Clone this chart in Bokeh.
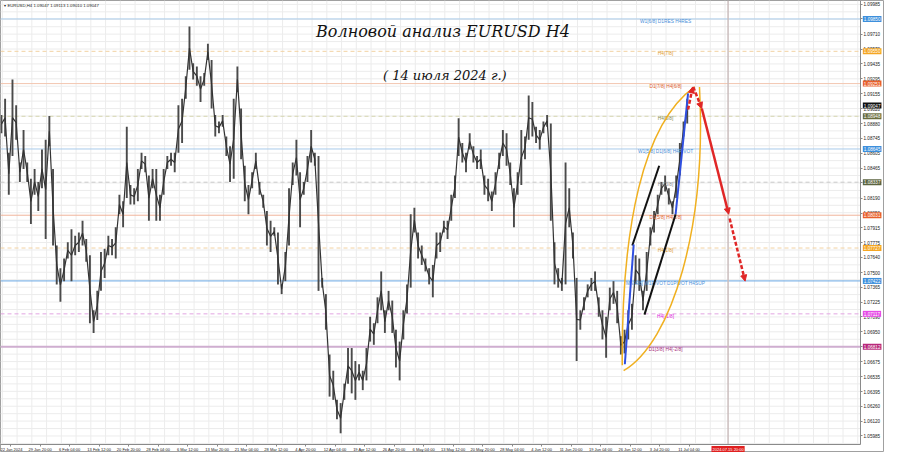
from bokeh.plotting import figure
from bokeh.models import (Range1d, FixedTicker, Label, Arrow, NormalHead,
                          ColumnDataSource, PrintfTickFormatter)
from bokeh.embed import file_html
from bokeh.resources import INLINE
from bokeh.core.properties import value

# ---------------- data ----------------
# EURUSD H4, sampled every 4 bars: high / low of each 4-bar group
hi = [
    1.0896, 1.0911, 1.0861, 1.0929, 1.0905, 1.0852, 1.0882, 1.0852, 1.0837, 1.0846,
    1.0834, 1.0864, 1.0873, 1.0895, 1.0846, 1.0775, 1.0754, 1.0763, 1.0778, 1.0790,
    1.0784, 1.0787, 1.0798, 1.0781, 1.0766, 1.0715, 1.0733, 1.0769, 1.0772, 1.0784,
    1.0781, 1.0792, 1.0822, 1.0816, 1.0885, 1.0831, 1.0828, 1.0846, 1.0861, 1.0858,
    1.0840, 1.0846, 1.0846, 1.0822, 1.0846, 1.0858, 1.0861, 1.0861, 1.0905, 1.0911,
    1.0932, 1.0978, 1.0944, 1.0941, 1.0932, 1.0935, 1.0962, 1.0947, 1.0896, 1.0890,
    1.0896, 1.0876, 1.0867, 1.0911, 1.0941, 1.0902, 1.0849, 1.0831, 1.0843, 1.0861,
    1.0834, 1.0822, 1.0807, 1.0798, 1.0792, 1.0787, 1.0739, 1.0769, 1.0828, 1.0852,
    1.0873, 1.0843, 1.0834, 1.0858, 1.0882, 1.0861, 1.0858, 1.0745, 1.0730, 1.0674,
    1.0659, 1.0632, 1.0629, 1.0647, 1.0680, 1.0680, 1.0668, 1.0665, 1.0659, 1.0680,
    1.0709, 1.0703, 1.0727, 1.0751, 1.0715, 1.0733, 1.0724, 1.0697, 1.0686, 1.0715,
    1.0739, 1.0804, 1.0810, 1.0787, 1.0775, 1.0763, 1.0754, 1.0757, 1.0787, 1.0787,
    1.0798, 1.0798, 1.0822, 1.0840, 1.0893, 1.0870, 1.0861, 1.0879, 1.0867, 1.0858,
    1.0864, 1.0840, 1.0837, 1.0825, 1.0843, 1.0861, 1.0882, 1.0879, 1.0852, 1.0828,
    1.0843, 1.0882, 1.0876, 1.0914, 1.0908, 1.0885, 1.0882, 1.0890, 1.0896, 1.0888,
    1.0778, 1.0754, 1.0745, 1.0852, 1.0828, 1.0787, 1.0745, 1.0715, 1.0727, 1.0739,
    1.0745, 1.0751, 1.0727, 1.0715, 1.0709, 1.0736, 1.0742, 1.0733, 1.0691, 1.0697,
    1.0715, 1.0721, 1.0766, 1.0763, 1.0733, 1.0769, 1.0792, 1.0807, 1.0822, 1.0834,
    1.0840, 1.0828, 1.0816, 1.0840, 1.0870, 1.0890, 1.0911,
]
lo = [
    1.0879, 1.0876, 1.0822, 1.0858, 1.0873, 1.0834, 1.0846, 1.0834, 1.0795, 1.0822,
    1.0807, 1.0828, 1.0781, 1.0867, 1.0775, 1.0739, 1.0723, 1.0742, 1.0763, 1.0742,
    1.0766, 1.0769, 1.0775, 1.0760, 1.0703, 1.0694, 1.0706, 1.0733, 1.0745, 1.0766,
    1.0766, 1.0763, 1.0804, 1.0792, 1.0819, 1.0813, 1.0813, 1.0816, 1.0846, 1.0843,
    1.0798, 1.0828, 1.0798, 1.0798, 1.0822, 1.0846, 1.0849, 1.0843, 1.0861, 1.0870,
    1.0911, 1.0938, 1.0929, 1.0923, 1.0908, 1.0923, 1.0947, 1.0902, 1.0876, 1.0879,
    1.0885, 1.0858, 1.0834, 1.0837, 1.0917, 1.0855, 1.0816, 1.0804, 1.0828, 1.0846,
    1.0822, 1.0810, 1.0775, 1.0769, 1.0784, 1.0739, 1.0730, 1.0742, 1.0775, 1.0831,
    1.0840, 1.0792, 1.0822, 1.0834, 1.0852, 1.0849, 1.0733, 1.0736, 1.0697, 1.0635,
    1.0632, 1.0614, 1.0601, 1.0632, 1.0647, 1.0638, 1.0632, 1.0650, 1.0641, 1.0650,
    1.0686, 1.0683, 1.0703, 1.0715, 1.0694, 1.0715, 1.0694, 1.0662, 1.0650, 1.0688,
    1.0712, 1.0736, 1.0787, 1.0763, 1.0757, 1.0751, 1.0739, 1.0727, 1.0763, 1.0769,
    1.0787, 1.0781, 1.0798, 1.0819, 1.0858, 1.0852, 1.0843, 1.0864, 1.0852, 1.0846,
    1.0846, 1.0822, 1.0816, 1.0807, 1.0822, 1.0846, 1.0858, 1.0849, 1.0831, 1.0792,
    1.0822, 1.0831, 1.0855, 1.0873, 1.0876, 1.0870, 1.0864, 1.0879, 1.0885, 1.0798,
    1.0739, 1.0736, 1.0733, 1.0739, 1.0792, 1.0763, 1.0668, 1.0697, 1.0715, 1.0727,
    1.0733, 1.0733, 1.0709, 1.0688, 1.0671, 1.0715, 1.0721, 1.0703, 1.0674, 1.0675,
    1.0688, 1.0697, 1.0739, 1.0733, 1.0715, 1.0733, 1.0775, 1.0787, 1.0804, 1.0822,
    1.0825, 1.0813, 1.0804, 1.0819, 1.0840, 1.0876, 1.0888,
]
BARS_PER_SAMPLE = 4

# time axis labels (every 32 H4 bars)
x_tick_labels = ["22 Jan 2024", "29 Jan 20:00", "6 Feb 04:00", "13 Feb 12:00", "20 Feb 20:00",
                 "28 Feb 04:00", "6 Mar 12:00", "13 Mar 20:00", "21 Mar 04:00", "28 Mar 12:00",
                 "4 Apr 20:00", "12 Apr 04:00", "19 Apr 12:00", "26 Apr 20:00", "6 May 04:00",
                 "13 May 12:00", "20 May 20:00", "28 May 04:00", "4 Jun 12:00", "11 Jun 20:00",
                 "19 Jun 04:00", "26 Jun 12:00", "3 Jul 20:00", "11 Jul 04:00"]
y_tick_values = [1.05985, 1.06120, 1.06260, 1.06395, 1.06535, 1.06675, 1.06810, 1.06950,
                 1.07090, 1.07225, 1.07365, 1.07500, 1.07640, 1.07775, 1.07915, 1.08050,
                 1.08190, 1.08330, 1.08465, 1.08605, 1.08745, 1.08880, 1.09020, 1.09155,
                 1.09295, 1.09435, 1.09570, 1.09710, 1.09850, 1.09985]

# Murrey-math levels
level_prices = [1.09850, 1.09550, 1.09251, 1.08948, 1.08645, 1.08337,
                1.08031, 1.07727, 1.07422, 1.07117, 1.06812]
level_names = ["W1[6/8] D1RES H4RES", "H4[7/8]", "D1[7/8] H4[6/8]", "H4[5/8]",
               "W1[5/8] D1[6/8] H4PIVOT", "H4[3/8]", "D1[5/8] H4[2/8]", "H4[1/8]",
               "MN[4/8] W1PIVOT D1PIVOT H4SUP", "H4[-1/8]", "D1[3/8] H4[-2/8]"]
level_line_colors = ["#a9cbea", "#f2d2a2", "#f2c6b0", "#d6d6b0", "#a9cbea", "#c9c9c9",
                     "#f0b49c", "#f2d2a2", "#6aa8e4", "#e2a6e2", "#cfaed0"]
level_dash = ["solid", "4 3", "solid", "4 3", "solid", "4 3",
              "solid", "4 3", "solid", "4 3", "solid"]
level_text_colors = ["#4a90d9", "#e09a2a", "#e0602e", "#858a4a", "#4a90d9", "#8a8a8a",
                     "#e0602e", "#e09a2a", "#4a90d9", "#dd22dd", "#a8307e"]

# price tags on the right scale
tag_prices = [1.09850, 1.09550, 1.09251, 1.09047, 1.08948, 1.08645,
              1.08337, 1.08031, 1.07727, 1.07422, 1.07117, 1.06812]
tag_colors = ["#3d8fdc", "#f5a623", "#e8602c", "#111111", "#6b6d3f", "#3d8fdc",
              "#5c6440", "#e8602c", "#f5a623", "#3d8fdc", "#e64ce6", "#b8287a"]

# wave drawings (bar index, price)
blue_x = [[676.3, 685.9], [731.4, 744.9]]
blue_y = [[1.0665, 1.0776], [1.0804, 1.0916]]
black_x = [[684.4, 713.6], [697.6, 731.4]]
black_y = [[1.0775, 1.0849], [1.0711, 1.0804]]
lens_x0 = [673.5, 675.0]; lens_y0 = [1.0664, 1.0659]
lens_c0x = [672.5, 727.8]; lens_c0y = [1.0792, 1.0686]
lens_c1x = [695.8, 765.2]; lens_c1y = [1.0888, 1.0792]
lens_x1 = [752.0, 757.3]; lens_y1 = [1.0922, 1.0922]
fc_x0 = [744.9, 750.5, 759.8, 790.0]
fc_y0 = [1.0901, 1.0922, 1.0902, 1.0800]
fc_x1 = [749.9, 759.8, 789.0, 806.8]
fc_y1 = [1.0922, 1.0902, 1.0804, 1.0742]
fc_dash = ["4 2", "4 2", "solid", "4 2"]
date_line_bar = 788.3

# ---------------- figure ----------------
FONT = "Liberation Sans"
X_AX = 932          # last bar slot: price scale sits here
Y_BOT = 1.0591      # bottom of the chart area: time scale sits here
Y_TOP = 1.10021
p = figure(width=884, height=452, output_backend="svg", toolbar_location=None,
           x_range=Range1d(-1, 958), y_range=Range1d(1.05832, Y_TOP),
           y_axis_location="right", min_border_left=0, min_border_right=0,
           min_border_top=0, min_border_bottom=0,
           background_fill_color="white", border_fill_color="white",
           outline_line_color="#a0a0a0")

x_tick_bars = [10 + 32 * k for k in range(len(x_tick_labels))]
for ax in (p.xaxis[0], p.yaxis[0]):
    ax.major_label_text_font = FONT
    ax.major_label_text_color = "#222222"
    ax.axis_line_color = "#8a8a8a"
    ax.major_tick_line_color = "#8a8a8a"
    ax.major_tick_out = 2
    ax.major_tick_in = 0
    ax.minor_tick_line_color = None
    ax.major_label_standoff = 1
p.xaxis.major_label_text_font_size = "4px"
p.yaxis.major_label_text_font_size = "4.6px"
p.yaxis.ticker = FixedTicker(ticks=y_tick_values)
p.yaxis.formatter = PrintfTickFormatter(format="%.5f")
p.yaxis.fixed_location = X_AX
p.yaxis.bounds = (Y_BOT, Y_TOP)
p.xaxis.ticker = FixedTicker(ticks=x_tick_bars)
p.xaxis.major_label_overrides = {b: s for b, s in zip(x_tick_bars, x_tick_labels)}
p.xaxis.fixed_location = Y_BOT
p.xaxis.bounds = (-1, X_AX)
p.xgrid.grid_line_color = None
p.ygrid.grid_line_color = None

# light chart grid (inside the chart area only)
gx = [x for x in range(1, X_AX, 16)]
p.segment(x0=gx, y0=[Y_BOT] * len(gx), x1=gx, y1=[Y_TOP] * len(gx),
          line_color="#ececec", line_width=1)
gy = [1.05985 + k * 0.04 / 58 for k in range(-1, 61) if Y_BOT < 1.05985 + k * 0.04 / 58 < Y_TOP]
p.segment(x0=[-1] * len(gy), y0=gy, x1=[X_AX] * len(gy), y1=gy,
          line_color="#ececec", line_width=1)

# level lines
for lv, c, d in zip(level_prices, level_line_colors, level_dash):
    p.segment(x0=[-1], y0=[lv], x1=[X_AX], y1=[lv], line_color=c, line_dash=d,
              line_width=2 if lv == 1.06812 else 1)
p.segment(x0=[date_line_bar], y0=[Y_BOT], x1=[date_line_bar], y1=[Y_TOP],
          line_color="#cbbdbd", line_width=1.5)

# price candles (4-bar groups)
xs = [i * BARS_PER_SAMPLE for i in range(len(hi))]
mid = [(a + b) / 2 for a, b in zip(hi, lo)]
src = ColumnDataSource(dict(x=xs, hi=hi, lo=lo, mid=mid))
p.segment(x0="x", y0="lo", x1="x", y1="hi", source=src, line_color="#4a4a4a", line_width=1.9)
p.line(x="x", y="mid", source=src, line_color="#333333", line_width=1.2)

# level texts
lsrc = ColumnDataSource(dict(x=[720.5] * len(level_prices),
                             y=[v - 0.00024 for v in level_prices],
                             t=level_names, c=level_text_colors))
p.text(x="x", y="y", text="t", text_color="c", source=lsrc, text_font=value(FONT),
       text_font_size="4.8px", text_align="center", text_baseline="middle")

# wave drawings
p.bezier(x0=lens_x0, y0=lens_y0, x1=lens_x1, y1=lens_y1, cx0=lens_c0x, cy0=lens_c0y,
         cx1=lens_c1x, cy1=lens_c1y, line_color="#f0b020", line_width=1.5)
p.multi_line(xs=black_x, ys=black_y, line_color="#111111", line_width=2)
p.multi_line(xs=blue_x, ys=blue_y, line_color="#2f4fe0", line_width=2)
for x0, y0, x1, y1, d in zip(fc_x0, fc_y0, fc_x1, fc_y1, fc_dash):
    p.add_layout(Arrow(end=NormalHead(size=6, fill_color="#e02626", line_color="#e02626"),
                       x_start=x0, y_start=y0, x_end=x1, y_end=y1,
                       line_color="#e02626", line_width=2.5, line_dash=d))

# titles
p.add_layout(Label(x=479, y=1.0973, text="Волновой анализ EURUSD H4", text_align="center",
                   text_baseline="middle", text_font="DejaVu Serif", text_font_style="italic",
                   text_font_size="16px", text_color="#111111"))
p.add_layout(Label(x=481, y=1.0933, text="( 14 июля 2024 г.)", text_align="center",
                   text_baseline="middle", text_font="DejaVu Serif", text_font_style="italic",
                   text_font_size="13px", text_color="#111111"))
p.add_layout(Label(x=3, y=1.09975, text="▾ EURUSD,H4  1.09047 1.09113 1.09010 1.09047",
                   text_align="left", text_baseline="middle", text_font=FONT,
                   text_font_size="4.3px", text_color="#222222"))

# right-scale price tags
for pr, c in zip(tag_prices, tag_colors):
    p.add_layout(Label(x=X_AX + 2.5, y=pr, text=f"{pr:.5f}", text_align="left",
                       text_baseline="middle", text_font=FONT, text_font_size="4.6px",
                       text_color="white", background_fill_color=c, padding=1))
# date tag on the time scale
p.add_layout(Label(x=date_line_bar, y=Y_BOT - 0.0005, text="2024.07.15 20:00",
                   text_align="center", text_baseline="middle", text_font=FONT,
                   text_font_size="4px", text_color="white",
                   background_fill_color="#e02020", padding=1))

open("out.html", "w").write(file_html(p, INLINE))
